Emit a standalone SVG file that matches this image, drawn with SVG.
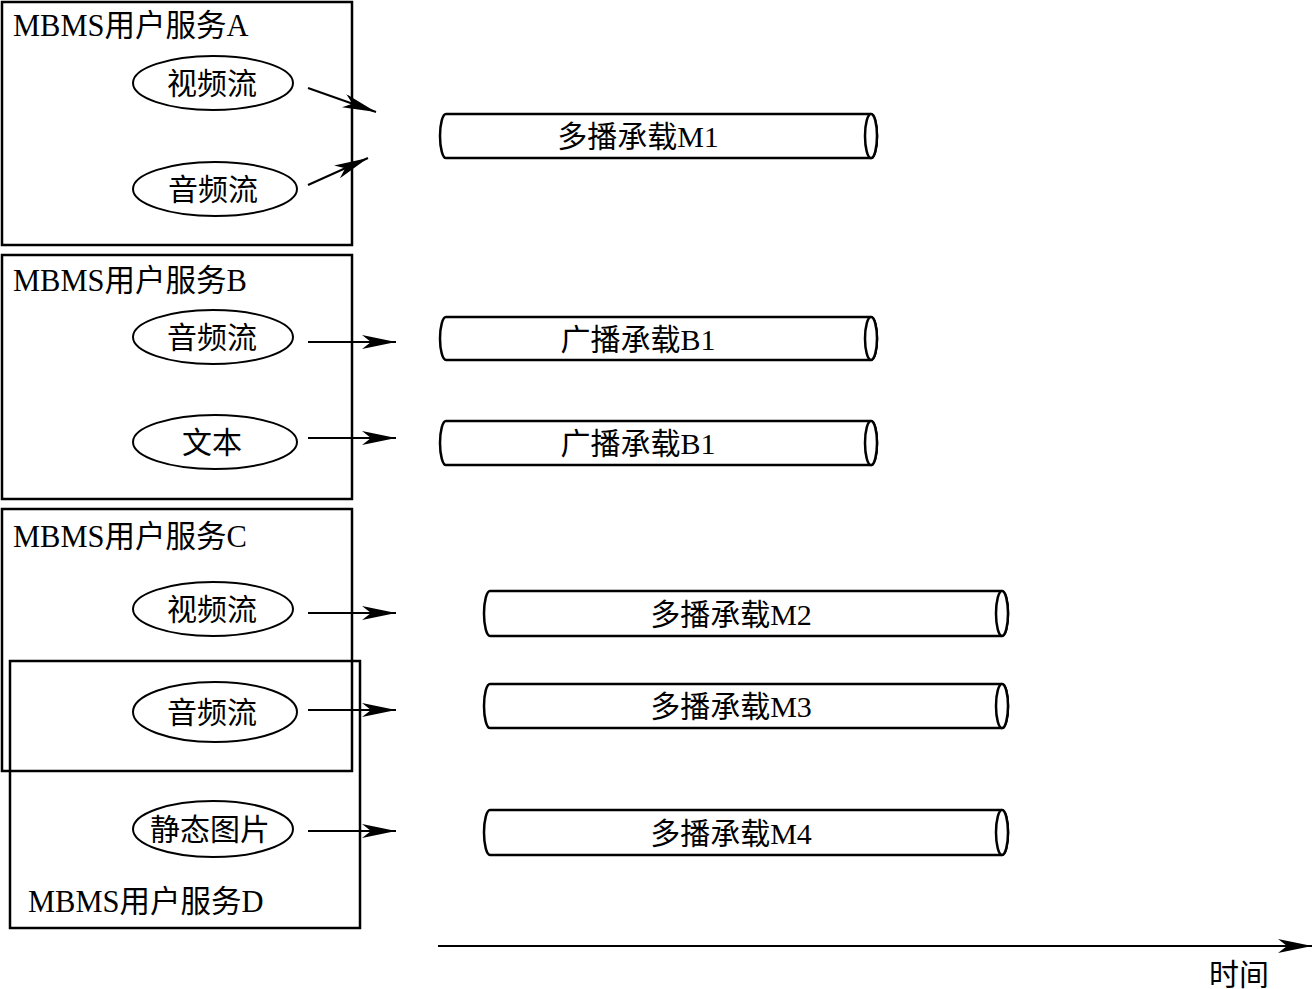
<svg xmlns="http://www.w3.org/2000/svg" width="1316" height="989" viewBox="0 0 1316 989">
<style>
text{font-family:"Liberation Serif","Noto Sans CJK SC",serif;font-size:30px;fill:#000}
.t{font-size:30.5px}
.box{fill:none;stroke:#000;stroke-width:2.5}
.el{fill:#fff;stroke:#000;stroke-width:2}
.cyl{fill:#fff;stroke:#000;stroke-width:2.5}
.ln{fill:none;stroke:#000;stroke-width:2;marker-end:url(#ah)}
.c{text-anchor:middle}
</style>
<defs>
<marker id="ah" markerWidth="36" markerHeight="14" refX="34" refY="7" orient="auto" markerUnits="userSpaceOnUse">
<path d="M0,0 L34,7 L0,14 L9,7 Z" fill="#000"/>
</marker>
</defs>
<rect width="1316" height="989" fill="#fff"/>
<g id="serviceA">
<rect class="box" x="2" y="2" width="350" height="243"/>
<text class="t" x="13" y="36">MBMS用户服务A</text>
</g>
<g id="serviceB">
<rect class="box" x="2" y="255" width="350" height="244"/>
<text class="t" x="13" y="291">MBMS用户服务B</text>
</g>
<g id="serviceC">
<rect class="box" x="2" y="509" width="350" height="262"/>
<text class="t" x="13" y="547">MBMS用户服务C</text>
</g>
<g id="serviceD">
<rect class="box" x="10" y="661" width="350" height="267"/>
<text class="t" x="28" y="912">MBMS用户服务D</text>
</g>
<g id="a-video"><ellipse class="el" cx="213" cy="83" rx="80" ry="27"/><text class="c" x="212" y="94">视频流</text></g>
<g id="a-audio"><ellipse class="el" cx="215" cy="189" rx="82" ry="27"/><text class="c" x="213" y="200">音频流</text></g>
<g id="b-audio"><ellipse class="el" cx="213" cy="337" rx="80" ry="27"/><text class="c" x="212" y="348">音频流</text></g>
<g id="b-text"><ellipse class="el" cx="215" cy="442" rx="82" ry="27"/><text class="c" x="212" y="453">文本</text></g>
<g id="c-video"><ellipse class="el" cx="213" cy="609" rx="80" ry="27"/><text class="c" x="212" y="620">视频流</text></g>
<g id="cd-audio"><ellipse class="el" cx="215" cy="712" rx="82" ry="30"/><text class="c" x="212" y="723">音频流</text></g>
<g id="d-image"><ellipse class="el" cx="213" cy="829" rx="80" ry="28"/><text class="c" x="210" y="840">静态图片</text></g>
<g id="m1"><path class="cyl" d="M446,114 L871,114 A6,22 0 0 1 871,158 L446,158 A6,22 0 0 1 446,114 Z"/><ellipse class="cyl" cx="871" cy="136" rx="6" ry="22"/><text class="c" x="638" y="147">多播承载M1</text></g>
<g id="b1a"><path class="cyl" d="M446,317 L871,317 A6,21.5 0 0 1 871,360 L446,360 A6,21.5 0 0 1 446,317 Z"/><ellipse class="cyl" cx="871" cy="338.5" rx="6" ry="21.5"/><text class="c" x="638" y="350">广播承载B1</text></g>
<g id="b1b"><path class="cyl" d="M446,421 L871,421 A6,22 0 0 1 871,465 L446,465 A6,22 0 0 1 446,421 Z"/><ellipse class="cyl" cx="871" cy="443" rx="6" ry="22"/><text class="c" x="638" y="454">广播承载B1</text></g>
<g id="m2"><path class="cyl" d="M490,591 L1002,591 A6,22.5 0 0 1 1002,636 L490,636 A6,22.5 0 0 1 490,591 Z"/><ellipse class="cyl" cx="1002" cy="613.5" rx="6" ry="22.5"/><text class="c" x="731" y="625">多播承载M2</text></g>
<g id="m3"><path class="cyl" d="M490,684 L1002,684 A6,22 0 0 1 1002,728 L490,728 A6,22 0 0 1 490,684 Z"/><ellipse class="cyl" cx="1002" cy="706" rx="6" ry="22"/><text class="c" x="731" y="717">多播承载M3</text></g>
<g id="m4"><path class="cyl" d="M490,810 L1002,810 A6,22.5 0 0 1 1002,855 L490,855 A6,22.5 0 0 1 490,810 Z"/><ellipse class="cyl" cx="1002" cy="832.5" rx="6" ry="22.5"/><text class="c" x="731" y="844">多播承载M4</text></g>
<g id="connectors">
<line class="ln" x1="308" y1="88" x2="376" y2="112"/>
<line class="ln" x1="308" y1="185" x2="368" y2="158"/>
<line class="ln" x1="308" y1="342" x2="396" y2="342"/>
<line class="ln" x1="308" y1="438" x2="396" y2="438"/>
<line class="ln" x1="308" y1="613" x2="396" y2="613"/>
<line class="ln" x1="308" y1="710" x2="396" y2="710"/>
<line class="ln" x1="308" y1="831" x2="396" y2="831"/>
<line class="ln" x1="438" y1="946" x2="1312" y2="946"/>
</g>
<g id="time-label"><text x="1209" y="985">时间</text></g>
</svg>
